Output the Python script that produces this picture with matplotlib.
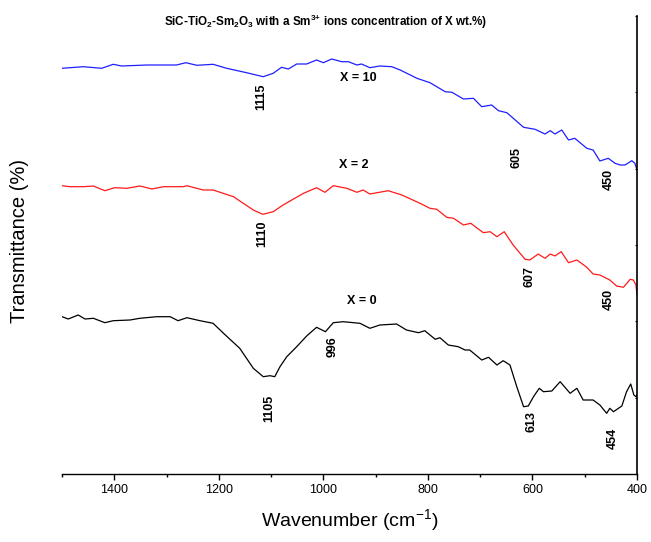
import numpy as np
import matplotlib
matplotlib.use('Agg')
import matplotlib.pyplot as plt

plt.rcParams['font.family'] = ['Liberation Sans', 'DejaVu Sans']
plt.rcParams['mathtext.fontset'] = 'custom'
plt.rcParams['mathtext.rm'] = 'Liberation Sans'
plt.rcParams['mathtext.bf'] = 'Liberation Sans:bold'

# FTIR spectra, transmittance in arbitrary units (curves are offset)
wn_10 = [1500, 1459, 1424, 1402, 1386, 1338, 1281, 1263, 1242, 1211, 1185, 1147, 1115, 1096,
         1080, 1067, 1051, 1032, 1013, 1000, 984, 965, 952, 936, 927, 911, 892, 869, 853, 821,
         796, 767, 754, 732, 713, 697, 678, 665, 649, 617, 595, 576, 566, 557, 544, 531, 519,
         496, 484, 471, 455, 442, 432, 423, 410, 404, 400]
tr_10 = [405.7, 407.3, 405.7, 409.7, 408, 409, 409, 411.3, 408.7, 409.7, 405.7, 401.3, 397.3,
         400.7, 406.7, 405, 410, 410, 414, 411.3, 415, 412.3, 412.3, 409, 410, 406.3, 408, 407.3,
         404, 395.7, 391.3, 382.3, 381.7, 375, 375.7, 367.3, 369, 363.3, 361.3, 346.7, 344.7,
         340, 343.3, 340, 344, 334, 335.7, 325.7, 324, 313, 315.7, 310.7, 309, 309, 313.3,
         310.7, 304]

wn_2 = [1500, 1485, 1459, 1440, 1418, 1399, 1376, 1351, 1328, 1306, 1268, 1261, 1230, 1211,
        1172, 1134, 1116, 1096, 1077, 1038, 1013, 997, 981, 955, 936, 924, 911, 876, 850, 815,
        796, 783, 764, 751, 732, 718, 694, 681, 668, 654, 637, 614, 605, 589, 576, 566, 557,
        545, 531, 515, 496, 484, 471, 452, 439, 426, 413, 407, 402, 400]
tr_2 = [288.3, 287.3, 287.3, 288, 283.3, 286.3, 285.7, 288, 285, 287.3, 287.3, 288.3, 284, 284,
        277.3, 264, 259.7, 262.3, 269, 280.7, 286.3, 281.7, 288.3, 285.7, 281.7, 284, 280,
        283.3, 279, 270.7, 265.7, 264.7, 256.7, 255.7, 249, 250.7, 241.3, 242.3, 237.3, 242.3,
        229, 214.7, 214, 220, 215.7, 220, 218, 222.3, 211.3, 214, 206.7, 200, 199, 194, 188,
        186.7, 194.7, 194, 189, 179]

wn_0 = [1500, 1488, 1469, 1456, 1440, 1418, 1402, 1370, 1351, 1319, 1293, 1278, 1261, 1236,
        1211, 1191, 1160, 1134, 1115, 1102, 1093, 1083, 1070, 1051, 1032, 1013, 996, 981, 962,
        930, 911, 892, 860, 841, 818, 806, 786, 777, 761, 742, 729, 720, 697, 684, 668, 656,
        643, 630, 617, 608, 598, 587, 579, 563, 547, 528, 515, 503, 484, 471, 458, 452, 445,
        429, 420, 412, 406, 402, 400]
tr_0 = [157.3, 155, 159, 155, 155.7, 151.3, 153.3, 154, 155.7, 157.3, 157.3, 153.3, 156.3, 153.3,
        150.7, 140.7, 125.7, 105.7, 97.3, 98.3, 97.3, 107.3, 117.3, 127.3, 138, 146.7, 142.3,
        151.3, 152.3, 150.7, 145.7, 149, 150, 144, 141.3, 143.3, 134.7, 136.3, 129, 127.3, 124,
        124, 114, 116.7, 109, 113.3, 109, 87.3, 67.3, 68, 77.3, 85.7, 82.3, 83, 92.3, 80.7,
        85.7, 74, 74, 69, 60.7, 65.7, 62.3, 68, 82.3, 90, 79, 77.3, 79]

# peak labels: (text, wavenumber, level)
peaks = [('1115', 1118, 377), ('605', 630, 316), ('450', 454, 295),
         ('1110', 1116, 240), ('607', 605, 197), ('450', 454, 175),
         ('1105', 1104, 66), ('996', 982, 127), ('613', 601, 52), ('454', 446, 36)]
series_labels = [('X = 10', 934, 396), ('X = 2', 941, 309), ('X = 0', 926, 173)]

fig = plt.figure(figsize=(6.51, 5.42), dpi=100)
ax = fig.add_axes([62 / 651, 1 - 474 / 542, 575 / 651, 458 / 542])

for wn, tr, col in [(wn_10, tr_10, '#1f1fff'), (wn_2, tr_2, '#ff1a1a'), (wn_0, tr_0, 'black')]:
    ax.plot(wn, tr, color=col, lw=0.9, solid_joinstyle='round')

for txt, x, y in peaks:
    ax.text(x, y, txt, rotation=90, ha='center', va='center', fontsize=9, fontweight='bold')
for txt, x, y in series_labels:
    ax.text(x, y, txt, ha='center', va='center', fontsize=9, fontweight='bold')

ax.set_xlim(1500, 400)
ax.set_ylim(0, 458)
ax.spines['left'].set_visible(False)
ax.spines['top'].set_visible(False)
ax.spines['bottom'].set_linewidth(1.0)
ax.spines['right'].set_linewidth(1.2)

ax.set_xticks(np.arange(1400, 399, -200))
ax.set_xticks(np.arange(1500, 399, -100), minor=True)
ax.tick_params(axis='x', which='major', direction='out', length=4.5, width=1, labelsize=9, pad=3)
ax.tick_params(axis='x', which='minor', direction='out', length=2.5, width=1)

ax.yaxis.tick_right()
ax.set_yticks(np.linspace(0, 458, 7))
ax.tick_params(axis='y', which='major', direction='in', length=1.5, width=0.8, labelright=False)

ax.set_xlabel('Wavenumber (cm$^{-1}$)', fontsize=14, labelpad=8)
fig.text(20 / 651, 1 - 241 / 542, 'Transmittance (%)', rotation=90, fontsize=14.5,
         ha='center', va='center')

fig.text(326 / 651, 1 - 22 / 542,
         r'SiC-TiO$_\mathbf{2}$-Sm$_\mathbf{2}$O$_\mathbf{3}$ with a Sm$^\mathbf{3{+}}$ ions concentration of X wt.%)',
         ha='center', va='center', fontsize=8.4, fontweight='bold')

fig.savefig('out.png', dpi=100)
